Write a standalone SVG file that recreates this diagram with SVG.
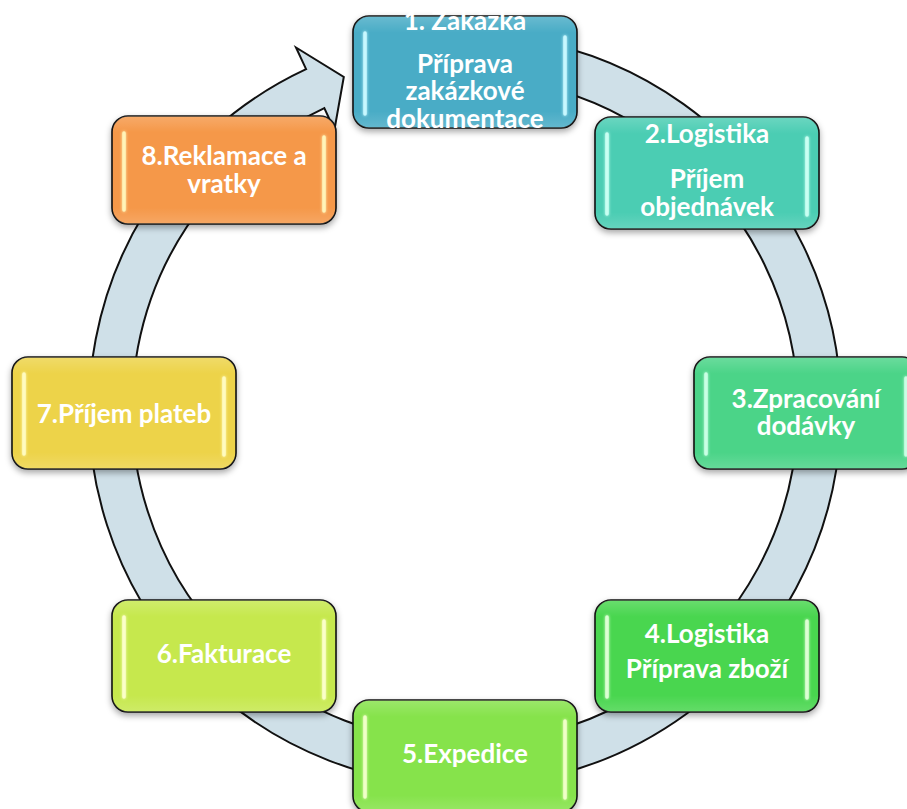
<svg xmlns="http://www.w3.org/2000/svg" width="907" height="809" viewBox="0 0 907 809">
<defs>
<filter id="sh" x="-10%" y="-10%" width="120%" height="130%">
<feDropShadow dx="0" dy="3" stdDeviation="3" flood-color="#000" flood-opacity="0.35"/>
</filter>
<filter id="glow" x="-200%" y="-10%" width="500%" height="120%">
<feGaussianBlur stdDeviation="1.5" result="b"/>
<feMerge><feMergeNode in="b"/><feMergeNode in="SourceGraphic"/></feMerge>
</filter>
<linearGradient id="shine" x1="0" y1="0" x2="0" y2="1">
<stop offset="0" stop-color="#fff" stop-opacity="0.18"/>
<stop offset="0.15" stop-color="#fff" stop-opacity="0"/>
<stop offset="0.85" stop-color="#fff" stop-opacity="0"/>
<stop offset="1" stop-color="#fff" stop-opacity="0.15"/>
</linearGradient>
</defs>
<style>
.box{stroke:#111;stroke-width:1.6;filter:url(#sh)}
.sh{fill:url(#shine);stroke:none}
.hl{stroke-width:3.5;stroke-linecap:round;fill:none;filter:url(#glow)}
.t{font-family:Lato,"Open Sans","Liberation Sans",sans-serif;font-weight:bold;font-size:26px;fill:#fff;text-anchor:middle}
.ring{fill:#cfe0e8;stroke:#111;stroke-width:2}
</style>
<rect width="907" height="809" fill="#fff"/>
<g id="connectors">
<path class="ring" d="M 530.3 39.7 A 376 376 0 1 1 306.1 69.2 L 296.0 47.5 L 343.8 76.9 L 334.4 130.0 L 324.3 108.2 A 333 333 0 1 0 522.8 82.1 Z"/>
</g>
<g id="node1">
<rect class="box" x="353" y="16" width="224" height="112" rx="16" fill="#4aacc6"/>
<rect class="sh" x="353" y="16" width="224" height="112" rx="16"/>
<path class="hl" stroke="#c8f8ff" d="M365 33V114M565 37V114"/>
<text class="t" x="465" y="30">1. Zakázka</text>
<text class="t" x="465" y="73">Příprava</text>
<text class="t" x="465" y="100">zakázkové</text>
<text class="t" x="465" y="128">dokumentace</text>
</g>
<g id="node2">
<rect class="box" x="595" y="117" width="224" height="112" rx="16" fill="#4ccdb3"/>
<rect class="sh" x="595" y="117" width="224" height="112" rx="16"/>
<path class="hl" stroke="#c8fff2" d="M607 134V214M807 138V215"/>
<text class="t" x="707" y="143">2.Logistika</text>
<text class="t" x="707" y="188">Příjem</text>
<text class="t" x="707" y="216">objednávek</text>
</g>
<g id="node3">
<rect class="box" x="694" y="357" width="224" height="112" rx="16" fill="#4cd488"/>
<rect class="sh" x="694" y="357" width="224" height="112" rx="16"/>
<path class="hl" stroke="#c8ffe4" d="M706 374V454M906 378V455"/>
<text class="t" x="806" y="408">3.Zpracování</text>
<text class="t" x="806" y="435">dodávky</text>
</g>
<g id="node4">
<rect class="box" x="595" y="600" width="224" height="112" rx="16" fill="#4ad64f"/>
<rect class="sh" x="595" y="600" width="224" height="112" rx="16"/>
<path class="hl" stroke="#dcffd4" d="M607 617V697M807 621V698"/>
<text class="t" x="707" y="643">4.Logistika</text>
<text class="t" x="707" y="678">Příprava zboží</text>
</g>
<g id="node5">
<rect class="box" x="353" y="700" width="224" height="112" rx="16" fill="#86e34b"/>
<rect class="sh" x="353" y="700" width="224" height="112" rx="16"/>
<path class="hl" stroke="#f0ffc8" d="M365 717V797M565 721V798"/>
<text class="t" x="465" y="763">5.Expedice</text>
</g>
<g id="node6">
<rect class="box" x="112" y="600" width="224" height="112" rx="16" fill="#c6e84d"/>
<rect class="sh" x="112" y="600" width="224" height="112" rx="16"/>
<path class="hl" stroke="#fbffc8" d="M124 617V697M324 621V698"/>
<text class="t" x="224" y="663">6.Fakturace</text>
</g>
<g id="node7">
<rect class="box" x="12" y="357" width="224" height="112" rx="16" fill="#edd348"/>
<rect class="sh" x="12" y="357" width="224" height="112" rx="16"/>
<path class="hl" stroke="#fffbc0" d="M24 374V454M224 378V455"/>
<text class="t" x="124" y="423">7.Příjem plateb</text>
</g>
<g id="node8">
<rect class="box" x="112" y="116" width="224" height="108" rx="16" fill="#f5984a"/>
<rect class="sh" x="112" y="116" width="224" height="108" rx="16"/>
<path class="hl" stroke="#fff4b8" d="M124 133V210M324 137V211"/>
<text class="t" x="224" y="165">8.Reklamace a</text>
<text class="t" x="224" y="193">vratky</text>
</g>
</svg>
